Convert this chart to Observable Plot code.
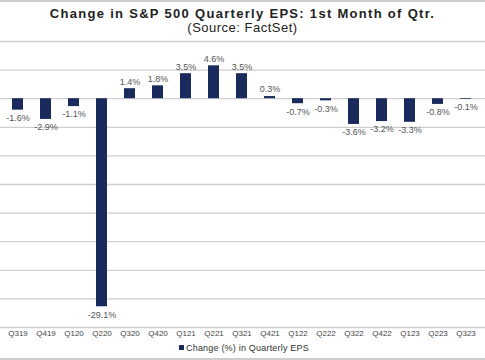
<!DOCTYPE html>
<html>
<head>
<meta charset="utf-8">
<script src="https://cdn.jsdelivr.net/npm/d3@7"></script>
<script src="https://cdn.jsdelivr.net/npm/@observablehq/plot@0.6"></script>
<style>
  html, body { margin: 0; padding: 0; background: #fff; }
  #wrap { position: relative; width: 485px; height: 360px; overflow: hidden; font-family: "Liberation Sans", Arial, sans-serif; }
  #wrap svg { position: absolute; left: 0; top: 0; background: transparent; }
  .title { position: absolute; left: 0; width: 485px; text-align: center; color: #222; }
  #t1 { top: 6px; font-size: 13px; font-weight: bold; letter-spacing: 1.3px; }
  #t2 { top: 20px; font-size: 13px; letter-spacing: 0.5px; }
  .hline { position: absolute; left: 0; width: 485px; height: 2px; background: #cdcdcd; }
  #legend { position: absolute; left: 179px; top: 343px; font-size: 9px; color: #333; white-space: nowrap; letter-spacing: 0.2px; }
  #legend span.sw { display: inline-block; width: 5px; height: 5px; background: #1b2a5c; margin-right: 2px; vertical-align: 1px; }
</style>
</head>
<body>
<div id="wrap">
  <div class="hline" style="top:0px"></div>
  <div class="title" id="t1">Change in S&amp;P 500 Quarterly EPS: 1st Month of Qtr.</div>
  <div class="title" id="t2">(Source: FactSet)</div>
  <div id="chart"></div>
  <div id="legend"><span class="sw"></span>Change (%) in Quarterly EPS</div>
  <div class="hline" style="top:358px"></div>
</div>
<script>
const quarters = ["Q319","Q419","Q120","Q220","Q320","Q420","Q121","Q221","Q321","Q421","Q122","Q222","Q322","Q422","Q123","Q223","Q323"];
const changes = [-1.6,-2.9,-1.1,-29.1,1.4,1.8,3.5,4.6,3.5,0.3,-0.7,-0.3,-3.6,-3.2,-3.3,-0.8,-0.1];
const gridTicks = [-32,-28,-24,-20,-16,-12,-8,-4,0,4,8];

const data = quarters.map((q, i) => ({q, v: changes[i]}));
const fmt = v => v.toFixed(1) + "%";

const chart = Plot.plot({
  width: 485,
  height: 360,
  marginTop: 41,
  marginBottom: 33,
  marginLeft: 0,
  marginRight: 0,
  style: {fontFamily: "'Liberation Sans', Arial, sans-serif", background: "transparent"},
  x: {domain: quarters, range: [-3.5, 487.5], paddingInner: 0.6, paddingOuter: 0.3, label: null},
  y: {domain: [-32, 8], axis: null},
  marks: [
    Plot.ruleY(gridTicks, {stroke: "#cfcfcf", strokeWidth: 1.3}),
    Plot.barY(data, {x: "q", y: "v", fill: "#1b2a5c"}),
    Plot.text(data.filter(d => d.v >= 0), {x: "q", y: "v", text: d => fmt(d.v), dy: -7, fontSize: 9, fill: "#555"}),
    Plot.text(data.filter(d => d.v < 0), {x: "q", y: "v", text: d => fmt(d.v), dy: 8, fontSize: 9, fill: "#555"}),
    Plot.axisX({tickSize: 0, tickPadding: 3, fontSize: 8, fill: "#444", label: null})
  ]
});
document.getElementById("chart").appendChild(chart);
</script>
</body>
</html>
